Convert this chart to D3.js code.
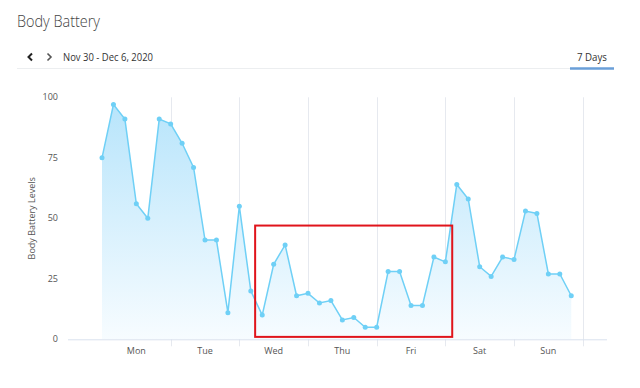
<!DOCTYPE html>
<html>
<head>
<meta charset="utf-8">
<script src="https://cdn.jsdelivr.net/npm/d3@7"></script>
<style>
  body { margin: 0; background: #fff; font-family: "Open Sans", sans-serif; }
  svg { display: block; }
</style>
</head>
<body>
<div id="chart"></div>
<script>
const days = ["Mon", "Tue", "Wed", "Thu", "Fri", "Sat", "Sun"];
// readings every 4 hours, starting Mon 00:00
const levels = [
  75, 97, 91, 56, 50, 91,
  89, 81, 71, 41, 41, 11,
  55, 20, 10, 31, 39, 18,
  19, 15, 16, 8, 9, 5,
  5, 28, 28, 14, 14, 34,
  32, 64, 58, 30, 26, 34,
  33, 53, 52, 27, 27, 18
];
const yTicks = [0, 25, 50, 75, 100];
const pointsPerDay = 6;
// highlighted window (in day units) and level range
const highlight = { x0: 2.23, x1: 5.1, y0: 1, y1: 47 };

const W = 640, H = 388;
const svg = d3.select("#chart").append("svg").attr("width", W).attr("height", H);

// header
svg.append("text").attr("x", 17).attr("y", 27)
  .attr("font-size", 16).attr("font-weight", 300).attr("fill", "#444")
  .attr("textLength", 83).attr("lengthAdjust", "spacingAndGlyphs")
  .text("Body Battery");
svg.append("path").attr("d", "M32,53.5 L28.5,57 L32,60.5")
  .attr("fill", "none").attr("stroke", "#222").attr("stroke-width", 2);
svg.append("path").attr("d", "M47.5,53.5 L51,57 L47.5,60.5")
  .attr("fill", "none").attr("stroke", "#555").attr("stroke-width", 1.6);
svg.append("text").attr("x", 63).attr("y", 61)
  .attr("font-size", 10).attr("fill", "#333")
  .attr("textLength", 90).attr("lengthAdjust", "spacingAndGlyphs")
  .text("Nov 30 - Dec 6, 2020");
svg.append("text").attr("x", 577).attr("y", 61)
  .attr("font-size", 10).attr("fill", "#333")
  .attr("textLength", 30).attr("lengthAdjust", "spacingAndGlyphs")
  .text("7 Days");
svg.append("line").attr("x1", 17).attr("x2", 614).attr("y1", 68.5).attr("y2", 68.5)
  .attr("stroke", "#eceef0");
svg.append("line").attr("x1", 570).attr("x2", 614).attr("y1", 68.5).attr("y2", 68.5)
  .attr("stroke", "#6a9fd8").attr("stroke-width", 2.5);

// scales
const x = d3.scaleLinear().domain([0, 7]).range([102, 582.7]);
const y = d3.scaleLinear().domain([0, 100]).range([339.3, 97.3]);
const axisLeftX = 68, axisRightX = 607;

const data = levels.map((v, i) => ({ t: i / pointsPerDay, v: v }));

// gradient
const defs = svg.append("defs");
const grad = defs.append("linearGradient").attr("id", "fillGrad")
  .attr("x1", 0).attr("x2", 0)
  .attr("gradientUnits", "userSpaceOnUse")
  .attr("y1", y(100)).attr("y2", y(0));
grad.append("stop").attr("offset", "0%").attr("stop-color", "#b6e4fb");
grad.append("stop").attr("offset", "100%").attr("stop-color", "#f7fcff");

// vertical day grid lines
const boundaries = d3.range(1, 8);
svg.append("g").selectAll("line").data(boundaries).join("line")
  .attr("x1", (d) => Math.round(x(d)) + 0.5).attr("x2", (d) => Math.round(x(d)) + 0.5)
  .attr("y1", y(100)).attr("y2", y(0) + 7)
  .attr("stroke", "#e6e9ef");

// area + line
svg.append("path").datum(data)
  .attr("d", d3.area().x((d) => x(d.t)).y0(y(0)).y1((d) => y(d.v)))
  .attr("fill", "url(#fillGrad)");
svg.append("path").datum(data)
  .attr("d", d3.line().x((d) => x(d.t)).y((d) => y(d.v)))
  .attr("fill", "none").attr("stroke", "#6fd0f6").attr("stroke-width", 1.5);
svg.append("g").selectAll("circle").data(data).join("circle")
  .attr("cx", (d) => x(d.t)).attr("cy", (d) => y(d.v)).attr("r", 2.5)
  .attr("fill", "#6fd0f6");

// x axis line
svg.append("line").attr("x1", axisLeftX).attr("x2", axisRightX)
  .attr("y1", y(0) + 0.5).attr("y2", y(0) + 0.5)
  .attr("stroke", "#d9e1ee");

// day labels
svg.append("g").selectAll("text").data(days).join("text")
  .attr("x", (d, i) => x(i + 0.5)).attr("y", 354)
  .attr("text-anchor", "middle").attr("font-size", 9).attr("fill", "#555")
  .text((d) => d);

// y tick labels
svg.append("g").selectAll("text").data(yTicks).join("text")
  .attr("x", 58).attr("y", (d) => y(d) + 3)
  .attr("text-anchor", "end").attr("font-size", 9).attr("fill", "#555")
  .text((d) => d);

svg.append("text")
  .attr("transform", `translate(35,${(y(0) + y(100)) / 2}) rotate(-90)`)
  .attr("text-anchor", "middle").attr("font-size", 9).attr("fill", "#555")
  .text("Body Battery Levels");

// highlight box
svg.append("rect")
  .attr("x", x(highlight.x0)).attr("y", y(highlight.y1))
  .attr("width", x(highlight.x1) - x(highlight.x0))
  .attr("height", y(highlight.y0) - y(highlight.y1))
  .attr("fill", "none").attr("stroke", "#e0141b").attr("stroke-width", 2);
</script>
</body>
</html>
